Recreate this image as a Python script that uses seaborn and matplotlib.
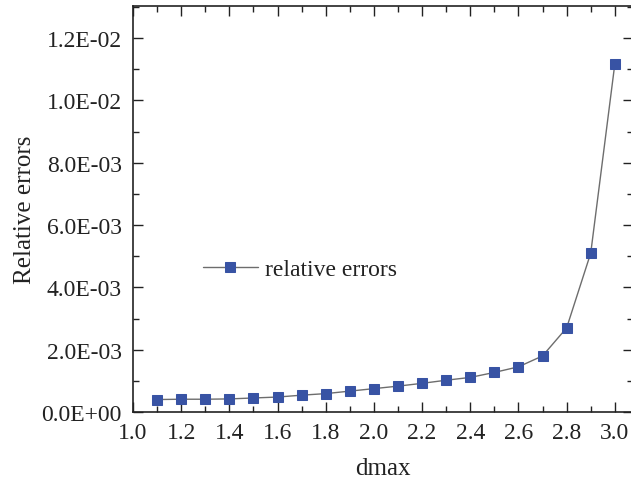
import matplotlib
matplotlib.use("Agg")
import matplotlib.pyplot as plt
import seaborn as sns
import pandas as pd
from matplotlib.ticker import MultipleLocator, FuncFormatter

dmax = [1.1, 1.2, 1.3, 1.4, 1.5, 1.6, 1.7, 1.8, 1.9, 2.0,
        2.1, 2.2, 2.3, 2.4, 2.5, 2.6, 2.7, 2.8, 2.9, 3.0]
rel_err = [0.00040, 0.00041, 0.00041, 0.00042, 0.00045, 0.00048, 0.00054,
           0.00059, 0.00067, 0.00075, 0.00083, 0.00092, 0.00102, 0.00111,
           0.00127, 0.00145, 0.00180, 0.00270, 0.00510, 0.01117]
series_name = "relative errors"

df = pd.DataFrame({"dmax": dmax, "err": rel_err, "series": series_name})

sns.set_style("ticks")
plt.rcParams["font.family"] = ["Liberation Serif", "DejaVu Serif"]
plt.rcParams["mathtext.fontset"] = "stix"

fig = plt.figure(figsize=(6.31, 4.85), dpi=100)
ax = fig.add_axes([133 / 631, 72 / 485, (631 - 133) / 631 + 0.003, (413 - 7) / 485])

sns.lineplot(data=df, x="dmax", y="err", hue="series", ax=ax,
             palette=["#6d6d6d"], marker="s", markersize=7,
             markerfacecolor="#3853a4", markeredgecolor="#3853a4",
             linewidth=1.0)

ax.set_xlim(1.0, 3.075)
ax.set_ylim(0, 0.01303)
ax.xaxis.set_major_locator(MultipleLocator(0.2))
ax.xaxis.set_minor_locator(MultipleLocator(0.1))
ax.yaxis.set_major_locator(MultipleLocator(0.002))
ax.yaxis.set_minor_locator(MultipleLocator(0.001))
ax.xaxis.set_major_formatter(FuncFormatter(lambda v, p: f"{v:.1f}"))

def yfmt(v, p):
    s = f"{v:.1E}"
    mant, ex = s.split("E")
    sign = ex[0]
    num = int(ex[1:])
    return f"{mant}E{sign}{num:02d}"

ax.yaxis.set_major_formatter(FuncFormatter(yfmt))

ax.tick_params(which="both", direction="in", top=True, right=True,
               color="#222222", width=1.0)
ax.tick_params(which="major", length=7, labelsize=17, labelcolor="#222222")
ax.tick_params(axis="x", which="major", pad=7)
ax.tick_params(axis="y", which="major", pad=8)
ax.tick_params(which="minor", length=4)
for s in ax.spines.values():
    s.set_linewidth(1.2)
    s.set_color("#222222")

ax.set_xlabel("dmax", fontsize=18, color="#222222", labelpad=10)
ax.set_ylabel("Relative errors", fontsize=18, color="#222222", labelpad=4)

leg = ax.legend(loc="upper left", bbox_to_anchor=(0.098, 0.43), frameon=False,
                fontsize=17, handlelength=2.3, handletextpad=0.3, labelcolor="#222222")

fig.savefig("out.png", dpi=100)
